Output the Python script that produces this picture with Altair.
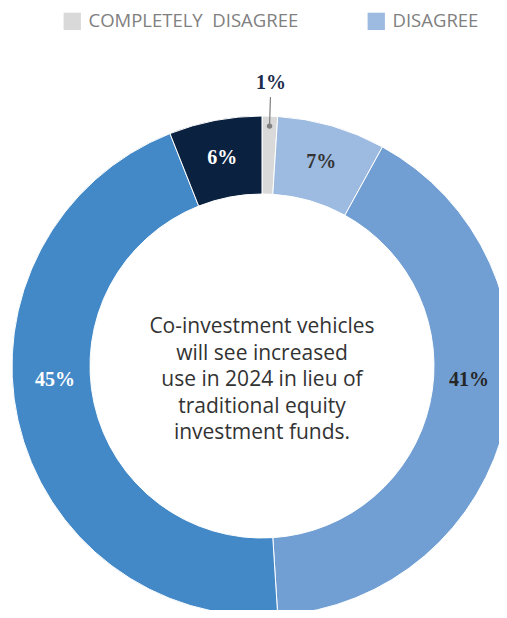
import math
import altair as alt
import pandas as pd

# ---- data ----
categories = ["COMPLETELY\u00a0 DISAGREE", "DISAGREE", "AGREE", "COMPLETELY AGREE", "NEUTRAL"]
values = [1, 7, 41, 45, 6]
labels = ["1%", "7%", "41%", "45%", "6%"]
colors = ["#d9d9d9", "#9dbae0", "#729fd3", "#4389c8", "#0a2240"]
label_colors = ["#1c2c4c", "#333333", "#262626", "#ffffff", "#ffffff"]
legend_items = categories[:2]
center_lines = ["Co-investment vehicles", "will see increased", "use in 2024 in lieu of",
                "traditional equity", "investment funds."]

df = pd.DataFrame({
    "category": categories,
    "value": values,
    "label": labels,
    "idx": list(range(len(values))),
    "lcolor": label_colors,
})

# ---- layout / style ----
W, H = 491, 602
CX, CY = 254, 358
R_OUT, R_IN = 250, 172
R_LBL = 212
TWO_PI = 2 * math.pi

theta_scale = alt.Scale(domain=[0, 1], range=[0, TWO_PI])

base = alt.Chart(df).transform_joinaggregate(
    total="sum(value)"
).transform_window(
    cum="sum(value)", sort=[alt.SortField("idx")], frame=[None, 0]
).transform_calculate(
    f_end="datum.cum / datum.total",
    f_start="(datum.cum - datum.value) / datum.total",
    f_mid="(datum.cum - datum.value / 2) / datum.total",
)

arcs = base.mark_arc(radius=R_OUT, radius2=R_IN, stroke="white", strokeWidth=1).encode(
    theta=alt.Theta("f_start:Q", scale=theta_scale),
    theta2="f_end:Q",
    x=alt.value(CX),
    y=alt.value(CY),
    color=alt.Color(
        "category:N",
        scale=alt.Scale(domain=categories, range=colors),
        legend=alt.Legend(
            values=legend_items,
            title=None,
            orient="none",
            legendX=55,
            legendY=4,
            direction="horizontal",
            symbolType="square",
            symbolSize=300,
            symbolStrokeWidth=0,
            labelFont="Open Sans",
            labelFontSize=18.5,
            labelColor="#808080",
            labelOffset=7,
            labelLimit=400,
            columnPadding=68,
            padding=0,
        ),
    ),
)

txt_kw = dict(font="Liberation Serif", fontSize=20, fontWeight="bold", align="center", baseline="middle")

top_labels = base.transform_filter(
    "datum.value >= 5 && (datum.f_mid < 0.25 || datum.f_mid > 0.75)"
).mark_text(radius=R_LBL, **txt_kw).encode(
    theta=alt.Theta("f_mid:Q", scale=theta_scale),
    x=alt.value(CX), y=alt.value(CY),
    text="label:N",
    color=alt.Color("lcolor:N", scale=None),
)

side_labels = base.transform_filter(
    "datum.value >= 5 && datum.f_mid >= 0.25 && datum.f_mid <= 0.75"
).mark_text(radius=R_LBL, dy=-32, **txt_kw).encode(
    theta=alt.Theta("f_mid:Q", scale=theta_scale),
    x=alt.value(CX), y=alt.value(CY),
    text="label:N",
    color=alt.Color("lcolor:N", scale=None),
)

small = base.transform_filter("datum.value < 5").transform_calculate(
    ang=f"datum.f_mid * {TWO_PI}",
)

out_label = small.mark_text(radius=283, **txt_kw).encode(
    theta=alt.Theta("f_mid:Q", scale=theta_scale),
    x=alt.value(CX), y=alt.value(CY),
    text="label:N",
    color=alt.Color("lcolor:N", scale=None),
)

leader = small.transform_calculate(
    x1=f"{CX} + 240 * sin(datum.ang)",
    y1=f"{CY} - 240 * cos(datum.ang)",
    x2=f"{CX} + 269 * sin(datum.ang)",
    y2=f"{CY} - 269 * cos(datum.ang)",
).mark_rule(color="#7f7f7f", strokeWidth=1.2).encode(
    x=alt.X("x1:Q", scale=None, axis=None),
    y=alt.Y("y1:Q", scale=None, axis=None),
    x2="x2:Q",
    y2="y2:Q",
)

dot = small.transform_calculate(
    x1=f"{CX} + 240 * sin(datum.ang)",
    y1=f"{CY} - 240 * cos(datum.ang)",
).mark_point(filled=True, size=30, color="#7f7f7f", opacity=1).encode(
    x=alt.X("x1:Q", scale=None, axis=None),
    y=alt.Y("y1:Q", scale=None, axis=None),
)

center_df = pd.DataFrame({"t": ["\n".join(center_lines)]})
center = alt.Chart(center_df).mark_text(
    font="Open Sans", fontSize=21, color="#333333", align="center", baseline="middle",
    lineBreak="\n", lineHeight=26.5,
).encode(
    text="t:N",
    x=alt.value(CX),
    y=alt.value(319),
)

chart = alt.layer(arcs, top_labels, side_labels, out_label, leader, dot, center).properties(
    width=W, height=H, padding=0, autosize=alt.AutoSizeParams(type="none"),
).configure_view(stroke=None)

chart.save("out.html", embed_options={"renderer": "svg", "actions": False})
